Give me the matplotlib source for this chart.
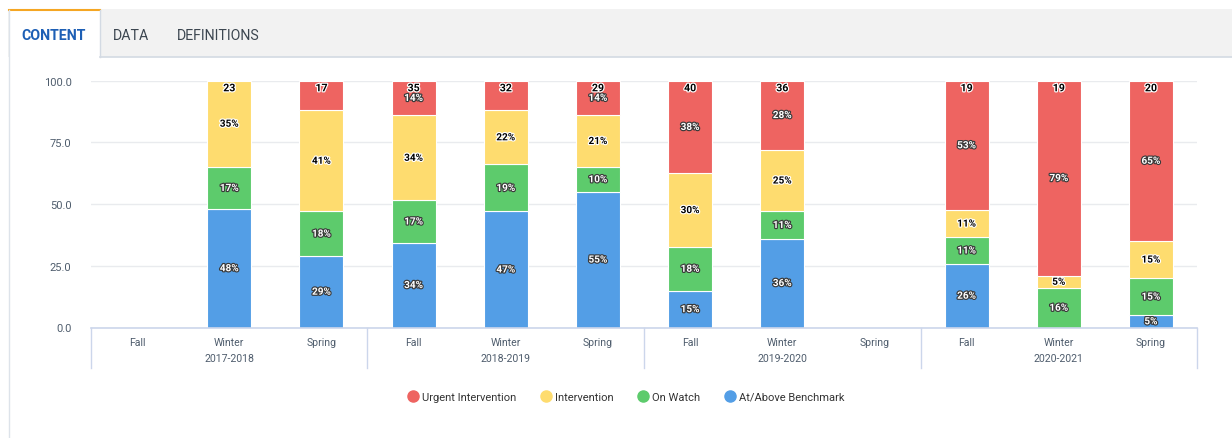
import matplotlib
matplotlib.use("Agg")
import matplotlib.pyplot as plt
import matplotlib.patheffects as pe
from matplotlib.patches import Rectangle
from matplotlib.lines import Line2D
import numpy as np

plt.rcParams['font.family'] = ['Roboto', 'DejaVu Sans']

# ---- data ----
years = ["2017-2018", "2018-2019", "2019-2020", "2020-2021"]
seasons = ["Fall", "Winter", "Spring"]
series_names = ["Urgent Intervention", "Intervention", "On Watch", "At/Above Benchmark"]
# percentages per slot (Fall/Winter/Spring for each year); None = no data
at_above = [None, 48, 29, 34, 47, 55, 15, 36, None, 26, 0, 5]
on_watch = [None, 17, 18, 17, 19, 10, 18, 11, None, 11, 16, 15]
intervention = [None, 35, 41, 34, 22, 21, 30, 25, None, 11, 5, 15]
urgent = [None, 0, 12, 14, 12, 14, 38, 28, None, 53, 79, 65]
counts = [None, 23, 17, 35, 32, 29, 40, 36, None, 19, 19, 20]

colors = {"Urgent Intervention": "#ee6461", "Intervention": "#fedc6f",
          "On Watch": "#5dcb6c", "At/Above Benchmark": "#539ee6"}

W, H = 1232, 439
fig = plt.figure(figsize=(W / 100, H / 100), dpi=100)
fig.patch.set_facecolor("white")

def fx(px):
    return px / W

def fy(py):
    return 1 - py / H

# ---- tab bar ----
fig.patches.append(Rectangle((fx(8), fy(58)), fx(1232 - 8), (58 - 10) / H,
                             transform=fig.transFigure, facecolor="#f2f2f2",
                             edgecolor="none", zorder=0))
fig.patches.append(Rectangle((fx(9), fy(58)), fx(100 - 9), (58 - 11) / H,
                             transform=fig.transFigure, facecolor="white",
                             edgecolor="none", zorder=1))
fig.add_artist(Line2D([fx(9), fx(100)], [fy(10.5), fy(10.5)], transform=fig.transFigure,
                      color="#f5a623", lw=1.5, zorder=2))
fig.add_artist(Line2D([fx(100), fx(1232)], [fy(58), fy(58)], transform=fig.transFigure,
                      color="#d3dae3", lw=1.2, zorder=2))
fig.add_artist(Line2D([fx(100), fx(100)], [fy(58), fy(11)], transform=fig.transFigure,
                      color="#d3dae3", lw=1.0, zorder=2))
fig.add_artist(Line2D([fx(8.5), fx(8.5)], [fy(11), fy(439)], transform=fig.transFigure,
                      color="#dde3ea", lw=1.0, zorder=2))
fig.text(fx(54), fy(35.5), "CONTENT", ha="center", va="center", fontsize=10.2,
         fontweight="bold", color="#1d5fb5", zorder=3)
fig.text(fx(131), fy(35.5), "DATA", ha="center", va="center", fontsize=10.2,
         color="#3c4650", zorder=3)
fig.text(fx(218), fy(35.5), "DEFINITIONS", ha="center", va="center", fontsize=10.2,
         color="#3c4650", zorder=3)

# ---- chart ----
ax = fig.add_axes([fx(91), fy(328.5), fx(1197 - 91), (328.5 - 81.5) / H])
n = len(counts)
x = np.arange(n)
ax.set_xlim(-0.5, n - 0.5)
ax.set_ylim(0, 100)
for s in ax.spines.values():
    s.set_visible(False)
ax.set_yticks([0, 25, 50, 75, 100])
ax.set_yticklabels(["0.0", "25.0", "50.0", "75.0", "100.0"])
ax.tick_params(axis="y", length=0, pad=14, labelsize=8, labelcolor="#4f5d6d")
ax.yaxis.grid(True, color="#e9ebee", lw=1)
ax.set_axisbelow(True)

stack_order = [("At/Above Benchmark", at_above), ("On Watch", on_watch),
               ("Intervention", intervention), ("Urgent Intervention", urgent)]
bw = 0.477
outline_dark = [pe.withStroke(linewidth=1.7, foreground="#3a3a3a")]
outline_light = [pe.withStroke(linewidth=1.7, foreground="white")]

for i in range(n):
    if counts[i] is None:
        continue
    total = sum(vals[i] for _, vals in stack_order)
    bottom = 0.0
    for name, vals in stack_order:
        v = vals[i]
        h = v * 100.0 / total
        if v > 0:
            ax.bar(x[i], h, bottom=bottom, width=bw, color=colors[name],
                   edgecolor="white", linewidth=0.8, zorder=2)
            show = not (name == "Urgent Intervention" and v < 13)
            if show:
                cy = bottom + h / 2
                if name == "Intervention":
                    ax.text(x[i], cy, f"{v}%", ha="center", va="center", fontsize=7.2,
                            fontweight="bold", color="black", path_effects=outline_light,
                            zorder=4)
                else:
                    ax.text(x[i], cy, f"{v}%", ha="center", va="center", fontsize=7.2,
                            fontweight="bold", color="white", path_effects=outline_dark,
                            zorder=4)
        bottom += h
    ax.annotate(f"{counts[i]}", (x[i], 100), xytext=(0, -2), textcoords="offset points",
                ha="center", va="top", fontsize=7.6, fontweight="bold", color="black",
                path_effects=outline_light, zorder=5)

# grouped x-axis
ax.set_xticks(x)
ax.set_xticklabels([s for _ in years for s in seasons])
ax.tick_params(axis="x", length=0, pad=7, labelsize=7.6, labelcolor="#4f5d6d")
trans = ax.get_xaxis_transform()
ax.plot([-0.5, n - 0.5], [0, 0], transform=trans, color="#ccd6eb", lw=1.2,
        clip_on=False, zorder=3)
for k in range(len(years) + 1):
    xb = -0.5 + 3 * k
    ax.plot([xb, xb], [0, -40 / 247], transform=trans, color="#ccd6eb", lw=1,
            clip_on=False, zorder=3)
for k, yr in enumerate(years):
    ax.text(3 * k + 1, -30.5 / 247, yr, transform=trans, ha="center", va="center",
            fontsize=7.6, color="#4f5d6d")

# legend
handles = [Line2D([0], [0], marker="o", linestyle="none", markersize=8,
                  markerfacecolor=colors[nm], markeredgecolor=colors[nm])
           for nm in series_names]
fig.legend(handles, series_names, loc="center", ncol=4, frameon=False,
           bbox_to_anchor=(fx(626), fy(398)), fontsize=8, labelcolor="#333333",
           handletextpad=0.3, columnspacing=2.2, handlelength=1.0)

fig.savefig("out.png", dpi=100)
